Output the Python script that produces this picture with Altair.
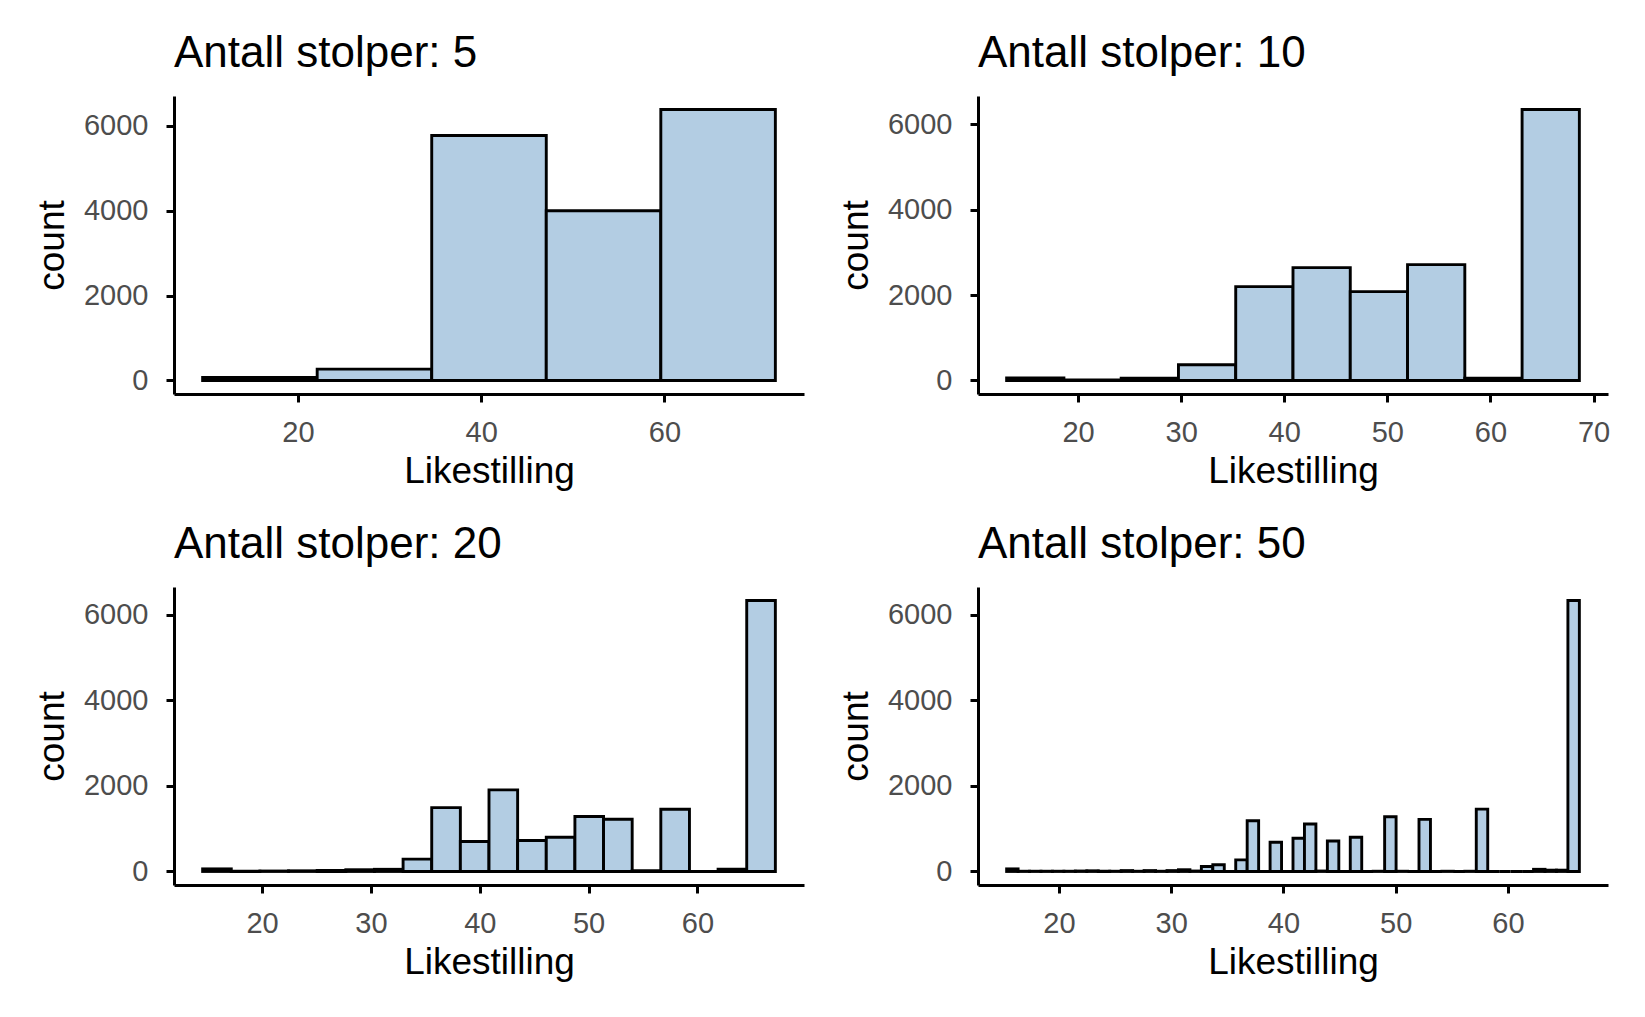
import altair as alt
import pandas as pd

# Range of the data (centres of first and last bin, ggplot-style binning)
DATA_MIN = 15.85
DATA_MAX = 65.85

bins_list = [5, 10, 20, 50]

counts_5 = [70, 267, 5773, 4000, 6384]
counts_10 = [60, 10, 50, 366, 2197, 2641, 2080, 2711, 50, 6342]
counts_20 = [60, 5, 10, 15, 25, 40, 50, 288, 1492, 700, 1906, 723, 800, 1283,
             1220, 20, 1453, 0, 50, 6330]
counts_50 = [60, 5, 5, 5, 5, 5, 10, 15, 5, 5,
             20, 5, 20, 5, 20, 40, 10, 116, 155, 0,
             271, 1186, 0, 682, 0, 775, 1108, 10, 713, 0,
             798, 0, 5, 1279, 5, 0, 1217, 0, 5, 0,
             5, 1457, 0, 0, 0, 0, 50, 30, 30, 6330]

xticks_5 = [20, 40, 60]
xticks_10 = [20, 30, 40, 50, 60, 70]
xticks_20 = [20, 30, 40, 50, 60]
xticks_50 = [20, 30, 40, 50, 60]
yticks = [0, 2000, 4000, 6000]

title_prefix = "Antall stolper: "
x_title = "Likestilling"
y_title = "count"

FONT = "Liberation Sans"
FILL = "#B3CDE3"


def make_panel(n, counts, xticks):
    w = (DATA_MAX - DATA_MIN) / (n - 1)
    starts = [DATA_MIN - w / 2 + i * w for i in range(n)]
    ends = [s + w for s in starts]
    lo, hi = starts[0], ends[-1]
    pad = 0.05 * (hi - lo)
    ymax = max(counts)
    df = pd.DataFrame({"start": starts, "end": ends, "count": counts,
                       "base": [0] * n})
    return (
        alt.Chart(
            df,
            title=alt.Title(f"{title_prefix}{n}", anchor="start", frame="group",
                            fontSize=44, fontWeight="normal", color="black",
                            font=FONT, offset=20),
        )
        .mark_rect(fill=FILL, stroke="black", strokeWidth=2.9)
        .encode(
            x=alt.X("start:Q",
                    scale=alt.Scale(domain=[lo - pad, hi + pad], nice=False, zero=False),
                    axis=alt.Axis(values=xticks, title=x_title, format="d",
                                  labelPadding=16, titlePadding=6)),
            x2="end:Q",
            y=alt.Y("count:Q",
                    scale=alt.Scale(domain=[-0.05 * ymax, 1.05 * ymax], nice=False, zero=False),
                    axis=alt.Axis(values=yticks, title=y_title, format="d",
                                  labelPadding=18, titlePadding=12)),
            y2="base:Q",
        )
        .properties(width=630, height=298)
    )


p1 = make_panel(5, counts_5, xticks_5)
p2 = make_panel(10, counts_10, xticks_10)
p3 = make_panel(20, counts_20, xticks_20)
p4 = make_panel(50, counts_50, xticks_50)

chart = (
    alt.vconcat(
        alt.hconcat(p1, p2, spacing=33),
        alt.hconcat(p3, p4, spacing=33),
        spacing=34,
    )
    .properties(padding={"left": 25, "top": 24, "right": 5, "bottom": 5},
                background="white")
    .configure_view(stroke=None)
    .configure_axis(
        grid=False,
        domainColor="black", domainWidth=3,
        tickColor="black", tickWidth=3, tickSize=8,
        labelColor="#4D4D4D", labelFontSize=29, labelFont=FONT,
        titleColor="black", titleFontSize=37, titleFont=FONT,
        titleFontWeight="normal",
    )
)

chart.save("out.html", embed_options={"renderer": "svg", "actions": False})
